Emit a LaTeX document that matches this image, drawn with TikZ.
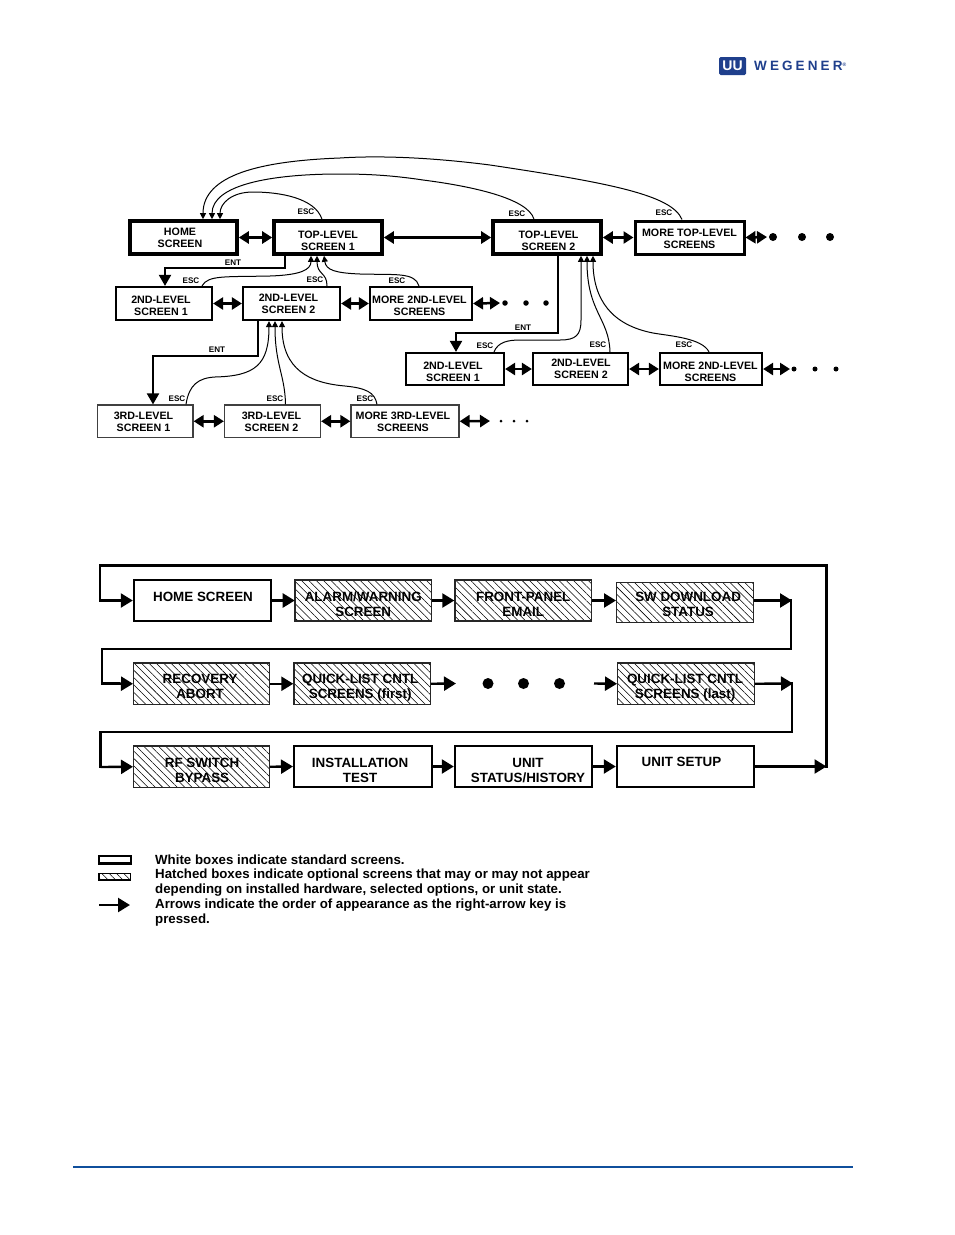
\documentclass[tikz,border=0pt]{standalone}
\usepackage{fontspec}
\setmainfont{Liberation Sans}
\usetikzlibrary{arrows.meta,patterns.meta,calc}
\definecolor{wblue}{HTML}{1F3F8C}
\definecolor{rulblue}{HTML}{0F4F9C}
\tikzset{
 x=1pt,y=-1pt,
 lab/.style={font=\fontsize{10.7}{12}\selectfont\bfseries},
 smalllab/.style={font=\fontsize{8.1}{9}\selectfont\bfseries,inner sep=0pt},
 big/.style={font=\fontsize{13.4}{15}\selectfont\bfseries},
 legendtxt/.style={font=\fontsize{13.28}{15}\selectfont\bfseries,anchor=west,inner sep=0pt},
 dbl/.style={line width=2.5pt,{Triangle[length=10pt,width=12pt]}-{Triangle[length=10pt,width=12pt]}},
 ent/.style={line width=2pt,-{Triangle[length=11pt,width=12pt]}},
 esc/.style={line width=1pt,-{Triangle[length=6pt,width=6pt]}},
 flow/.style={line width=2.4pt,-{Triangle[length=12pt,width=14pt]}},
 flowline/.style={line width=2.4pt,line join=miter},
 hatch/.style={pattern={Lines[angle=-45,distance=5.2pt,line width=.55pt]},pattern color=black},
 dotc/.style={circle,fill=black,inner sep=0pt,minimum size=#1},
 t1/.style={line width=3.6pt,lab},
 t2/.style={line width=2.2pt,lab},
 t3/.style={line width=1.2pt,draw=black!75,lab},
 plain/.style={line width=2.4pt,big},
 hat/.style={line width=1.4pt,draw=black!85,big,hatch},
}
\newcommand{\bx}[6]{\node[draw,rectangle,inner sep=0pt,minimum width=#4pt-#2pt,minimum height=#5pt-#3pt,#6] (#1) at ({(#2+#4)/2},{(#3+#5)/2})}
\newcommand{\tx}[3]{\raisebox{\dimexpr-#2pt-.47em\relax}[0pt][0pt]{\makebox[0pt][c]{\kern\dimexpr 2\dimexpr#1pt\relax\relax\begin{tabular}{@{}c@{}}#3\end{tabular}}}}
\begin{document}
\begin{tikzpicture}
\useasboundingbox (0,0) rectangle (954,1235);
% logo
\node[fill=wblue,rounded corners=1.5pt,minimum width=27pt,minimum height=18pt,inner sep=0pt,font=\fontsize{14}{14}\selectfont\bfseries,text=white] (logoU) at (732.5,66) {UU};
\node[font=\fontsize{13.5}{13.5}\selectfont\bfseries,text=wblue,inner sep=0pt,anchor=west] (logoT) at (754,66) {W\kern3.1pt E\kern3.1pt G\kern3.1pt E\kern3.1pt N\kern3.1pt E\kern3.1pt R\raisebox{4pt}{\fontsize{5}{5}\selectfont ®}};
% upper diagram boxes
\bx{home}{130}{221}{237}{254}{t1} {\tx{-3.5}{-.5}{HOME\\SCREEN}};
\bx{top1}{274}{221}{382}{254}{t1} {\tx{0}{2.5}{TOP-LEVEL\\SCREEN 1}};
\bx{top2}{493}{221}{601}{254}{t1} {\tx{1.5}{2.5}{TOP-LEVEL\\SCREEN 2}};
\bx{moretop}{635}{221}{744}{254}{line width=3pt,lab} {\tx{0}{.5}{MORE TOP-LEVEL\\SCREENS}};
\bx{a1}{116}{287}{212}{320}{t2} {\tx{-3}{1.5}{2ND-LEVEL\\SCREEN 1}};
\bx{a2}{243}{287}{340}{320}{t2} {\tx{-3}{-.5}{2ND-LEVEL\\SCREEN 2}};
\bx{a3}{370}{287}{472}{320}{t2} {\tx{-1.5}{1.5}{MORE 2ND-LEVEL\\SCREENS}};
\bx{b1}{406}{353}{504}{385}{t2} {\tx{-2}{2}{2ND-LEVEL\\SCREEN 1}};
\bx{b2}{533}{353}{628}{385}{t2} {\tx{.5}{-1}{2ND-LEVEL\\SCREEN 2}};
\bx{b3}{660}{353}{762}{385}{t2} {\tx{-.5}{2}{MORE 2ND-LEVEL\\SCREENS}};
\bx{c1}{97.5}{405}{193}{437.5}{t3} {\tx{-1.75}{0}{3RD-LEVEL\\SCREEN 1}};
\bx{c2}{224.5}{405}{320.5}{437.5}{t3} {\tx{-1}{0}{3RD-LEVEL\\SCREEN 2}};
\bx{c3}{351}{405}{459}{437.5}{t3} {\tx{-2}{0}{MORE 3RD-LEVEL\\SCREENS}};
% free ends and dots
\coordinate (e0) at (767,237);
\node[dotc=8pt] (d01) at (773,237) {}; \node[dotc=8pt] (d02) at (802,237) {}; \node[dotc=8pt] (d03) at (830,237) {};
\coordinate (e1) at (500,303);
\node[dotc=5.5pt] (d11) at (505,303) {}; \node[dotc=5.5pt] (d12) at (526,303) {}; \node[dotc=5.5pt] (d13) at (546,303) {};
\coordinate (e2) at (790,369);
\node[dotc=5pt] (d21) at (794,369) {}; \node[dotc=5pt] (d22) at (815,369) {}; \node[dotc=5pt] (d23) at (836,369) {};
\coordinate (e3) at (490,421);
\node[dotc=3pt] (d31) at (501,421) {}; \node[dotc=3pt] (d32) at (514,421) {}; \node[dotc=3pt] (d33) at (527,421) {};
% double arrows
\draw[dbl] (home.east) -- (top1.west);
\draw[dbl] (top1.east) -- (top2.west);
\draw[dbl] (top2.east) -- (moretop.west);
\draw[dbl] (moretop.east) -- (e0);
\draw[dbl] (a1.east) -- (a2.west);
\draw[dbl] (a2.east) -- (a3.west);
\draw[dbl] (a3.east) -- (e1);
\draw[dbl] (b1.east) -- (b2.west);
\draw[dbl] (b2.east) -- (b3.west);
\draw[dbl] (b3.east) -- (e2);
\draw[dbl] (c1.east) -- (c2.west);
\draw[dbl] (c2.east) -- (c3.west);
\draw[dbl] (c3.east) -- (e3);
% ENT connectors
\draw[ent] ([xshift=-43pt]top1.south) |- (165,268) -- ([xshift=1pt]a1.north);
\draw[ent] ([xshift=-33.5pt]a2.south) |- (153,356) -- ([xshift=7.75pt]c1.north);
\draw[ent] ([xshift=11pt]top2.south) |- (456,333) -- ([xshift=1pt]b1.north);
% ESC curves to home
\draw[esc] ([xshift=-6pt]top1.north) .. controls (315,198) and (280,192) .. (253,192) .. controls (232,192) and (220,203) .. ([xshift=36.5pt]home.north);
\draw[esc] ([xshift=-13pt]top2.north) .. controls (528,198) and (470,186) .. (423,180) .. controls (390,175) and (365,174) .. (340,174) .. controls (270,174) and (212,185) .. ([xshift=28.5pt]home.north);
\draw[esc] ([xshift=-7.5pt]moretop.north) .. controls (672,195) and (610,183) .. (490,165) .. controls (420,156) and (370,156) .. (340,158) .. controls (260,161) and (203,175) .. ([xshift=19.5pt]home.north);
% ESC curves to top1
\draw[esc] ([xshift=38pt]a1.north) .. controls (208,275) and (225,277) .. (270,276) .. controls (300,275) and (311,270) .. ([xshift=-17pt]top1.south);
\draw[esc] ([xshift=35.5pt]a2.north) .. controls (327,272) and (317,275) .. ([xshift=-11pt]top1.south);
\draw[esc] ([xshift=-2pt]a3.north) .. controls (415,272) and (395,275) .. (360,274) .. controls (335,273) and (326,270) .. ([xshift=-4pt]top1.south);
% ESC curves to a2
\draw[esc] ([xshift=40.75pt]c1.north) .. controls (189,385) and (198,378) .. (215,377) .. controls (255,376) and (269,365) .. ([xshift=-22.5pt]a2.south);
\draw[esc] ([xshift=13pt]c2.north) .. controls (285,375) and (275,365) .. ([xshift=-16.5pt]a2.south);
\draw[esc] ([xshift=-28pt]c3.north) .. controls (375,392) and (365,388) .. (345,386) .. controls (310,383) and (282,370) .. ([xshift=-9.5pt]a2.south);
% ESC curves to top2
\draw[esc] ([xshift=39pt]b1.north) .. controls (498,342) and (508,340) .. (520,340) -- (560,340) .. controls (576,340) and (581,335) .. (581,320) -- ([xshift=34pt]top2.south);
\draw[esc] ([xshift=29.5pt]b2.north) .. controls (609,318) and (587,312) .. ([xshift=40pt]top2.south);
\draw[esc] ([xshift=-2pt]b3.north) .. controls (702,338) and (670,336) .. (653,333) .. controls (612,325) and (593,300) .. ([xshift=46pt]top2.south);
% labels
\node[smalllab] (ent1) at (233,263) {ENT};
\node[smalllab] (ent2) at (217,350) {ENT};
\node[smalllab] (ent3) at (523,328) {ENT};
\node[smalllab] (esc1) at (306,212) {ESC};
\node[smalllab] (esc2) at (191,281) {ESC};
\node[smalllab] (esc3) at (315,280) {ESC};
\node[smalllab] (esc4) at (397,281) {ESC};
\node[smalllab] (esc5) at (177,398.5) {ESC};
\node[smalllab] (esc6) at (275,398.5) {ESC};
\node[smalllab] (esc7) at (365,398.5) {ESC};
\node[smalllab] (esc8) at (517,214) {ESC};
\node[smalllab] (esc9) at (664,213) {ESC};
\node[smalllab] (esc10) at (485,346) {ESC};
\node[smalllab] (esc11) at (598,345) {ESC};
\node[smalllab] (esc12) at (684,345) {ESC};
% lower diagram
\bx{hs}{134}{580}{271}{621}{plain} {\tx{.5}{-4.5}{HOME SCREEN}};
\bx{alarm}{295}{580}{431.5}{621}{hat} {\tx{0}{3}{ALARM/WARNING\\SCREEN}};
\bx{front}{455}{580}{591.5}{621}{hat} {\tx{0}{3}{FRONT-PANEL\\EMAIL}};
\bx{sw}{616.7}{582.5}{753.5}{622.5}{hat} {\tx{3}{1}{SW DOWNLOAD\\STATUS}};
\bx{rec}{133.7}{663}{269.5}{704.5}{hat} {\tx{-1.5}{1.75}{RECOVERY\\ABORT}};
\bx{qf}{294}{663}{430.5}{704.5}{hat} {\tx{-2}{2}{QUICK-LIST CNTL\\SCREENS (first)}};
\bx{ql}{617.7}{663}{754.5}{704.5}{hat} {\tx{-1}{2}{QUICK-LIST CNTL\\SCREENS (last)}};
\bx{rf}{133.7}{746}{269.5}{787.5}{hat} {\tx{.5}{2.75}{RF SWITCH\\BYPASS}};
\bx{inst}{294.2}{746}{432}{787}{plain} {\tx{-3}{3}{INSTALLATION\\TEST}};
\bx{stat}{455}{746}{592}{787}{plain} {\tx{4.5}{3}{UNIT\\STATUS/HISTORY}};
\bx{setup}{617}{746}{754}{787}{plain} {\tx{-4}{-5.5}{UNIT SETUP}};
\node[dotc=11pt] (m1) at (488,683.5) {}; \node[dotc=11pt] (m2) at (523.5,683.5) {}; \node[dotc=11pt] (m3) at (559.5,683.5) {};
\coordinate (qa) at (456,683.5);
\coordinate (qb) at (594,683.5);
\coordinate (r1) at (792,600.5);
\coordinate (r2) at (793,683.5);
\coordinate (r3) at (826.5,766.5);
% flow arrows
\draw[flow] (hs.east) -- (alarm.west);
\draw[flow] (alarm.east) -- (front.west);
\draw[flow] (front.east) -- (sw.west |- front.east);
\draw[flow] (sw.east |- r1) -- (r1);
\draw[flow] (rec.east) -- (qf.west);
\draw[flow] (qf.east) -- (qa);
\draw[flow] (qb) -- (ql.west);
\draw[flow] (ql.east) -- (r2);
\draw[flow] (rf.east) -- (inst.west);
\draw[flow] (inst.east) -- (stat.west);
\draw[flow] (stat.east) -- (setup.west);
\draw[flow] (setup.east) -- (r3);
\draw[flowline] (r1) ++(-.8,-1.2) |- (102,649) |- (120,683.5);
\draw[flow] (102,683.5) -- (rec.west);
\draw[flowline] (r2) ++(-.8,-1.2) |- (100.5,732) |- (120,767);
\draw[flow] (100.5,767) -- (rf.west);
\draw[flowline] (r3) ++(0,1.2) |- (100,565.5) |- (120,600.5);
\draw[flow] (100,600.5) -- (hs.west);
% legend
\bx{lw}{99.2}{856}{130.8}{863.5}{line width=2.4pt} {};
\bx{lh}{99}{873.5}{130.5}{880}{line width=1.2pt,hatch} {};
\coordinate (la) at (99,905);
\coordinate (lb) at (130,905);
\draw[flow] (la) -- (lb);
\node[legendtxt] (l1) at (155,860) {White boxes indicate standard screens.};
\node[legendtxt] (l2) at (155,875) {Hatched boxes indicate optional screens that may or may not appear};
\node[legendtxt] (l3) at (155,890) {depending on installed hardware, selected options, or unit state.};
\node[legendtxt] (l4) at (155,905) {Arrows indicate the order of appearance as the right-arrow key is};
\node[legendtxt] (l5) at (155,920) {pressed.};
% footer rule
\coordinate (f0) at (73,1167);
\coordinate (f1) at (853,1167);
\draw[rulblue,line width=2pt] (f0) -- (f1);
\end{tikzpicture}
\end{document}
